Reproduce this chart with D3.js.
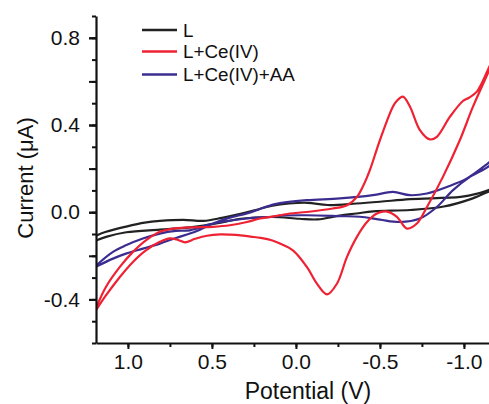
<!DOCTYPE html>
<html>
<head>
<meta charset="utf-8">
<script src="https://cdn.jsdelivr.net/npm/d3@7"></script>
<style>
  html, body { margin: 0; padding: 0; background: #fff; }
  svg { display: block; }
  text { font-family: "Liberation Sans", Arial, sans-serif; fill: #111; }
</style>
</head>
<body>
<svg id="chart" width="489" height="404"></svg>
<script>
// ---- data: [potential (V), current (µA)] tracing each closed CV loop ----
const seriesNames = ["L", "L+Ce(IV)", "L+Ce(IV)+AA"];
const seriesColors = ["#222222", "#ee2233", "#3b2d8f"];

const curveL = [
  [1.19,-0.108],[1.13,-0.090],[1.01,-0.066],[0.90,-0.048],[0.81,-0.040],[0.67,-0.035],
  [0.55,-0.040],[0.44,-0.026],[0.33,-0.008],[0.24,0.010],[0.14,0.030],[0.04,0.040],
  [-0.07,0.043],[-0.19,0.033],[-0.36,0.040],[-0.50,0.048],[-0.68,0.060],[-0.98,0.070],
  [-1.08,0.085],[-1.143,0.101],[-1.20,0.115],
  [-1.20,0.108],[-1.143,0.093],[-1.04,0.060],[-0.88,0.026],[-0.68,0.010],[-0.46,0.004],
  [-0.36,-0.006],[-0.26,-0.016],[-0.13,-0.033],[-0.02,-0.030],[0.14,-0.022],[0.33,-0.030],
  [0.44,-0.047],[0.63,-0.070],[0.81,-0.080],[1.01,-0.092],[1.13,-0.113],[1.19,-0.130]
];

const curveLCe = [
  [1.19,-0.450],[1.131,-0.382],[1.048,-0.297],[0.970,-0.228],[0.893,-0.175],[0.810,-0.136],
  [0.75,-0.120],[0.70,-0.128],[0.66,-0.138],[0.60,-0.122],[0.53,-0.108],[0.45,-0.102],
  [0.39,-0.103],[0.33,-0.106],[0.27,-0.112],[0.21,-0.118],[0.14,-0.130],[0.095,-0.144],
  [0.018,-0.175],[-0.065,-0.251],[-0.125,-0.328],[-0.185,-0.377],[-0.244,-0.328],
  [-0.304,-0.205],[-0.363,-0.113],[-0.423,-0.045],[-0.482,-0.006],[-0.542,0.003],
  [-0.601,-0.021],[-0.661,-0.075],[-0.720,-0.052],[-0.780,0.024],[-0.875,0.162],
  [-0.976,0.331],[-1.054,0.484],[-1.143,0.638],[-1.20,0.740],
  [-1.20,0.750],[-1.143,0.653],[-1.077,0.553],[-1.03,0.525],[-0.994,0.510],[-0.917,0.438],
  [-0.839,0.346],[-0.798,0.334],[-0.738,0.377],[-0.679,0.484],[-0.637,0.530],[-0.600,0.510],
  [-0.577,0.484],[-0.500,0.331],[-0.440,0.193],[-0.400,0.120],[-0.363,0.070],[-0.304,0.032],
  [-0.220,0.017],[-0.065,0.001],[0.036,-0.006],[0.095,-0.014],[0.214,-0.029],[0.292,-0.045],
  [0.393,-0.060],[0.494,-0.067],[0.631,-0.070],[0.732,-0.075],[0.810,-0.090],[0.893,-0.129],
  [0.970,-0.182],[1.048,-0.251],[1.131,-0.343],[1.19,-0.440]
];

const curveLCeAA = [
  [1.19,-0.250],[1.089,-0.213],[1.012,-0.190],[0.911,-0.167],[0.810,-0.144],[0.714,-0.118],
  [0.631,-0.098],[0.571,-0.080],[0.494,-0.052],[0.393,-0.025],[0.292,-0.006],[0.214,0.015],
  [0.137,0.035],[0.095,0.042],[-0.065,0.055],[-0.262,0.063],[-0.458,0.078],[-0.577,0.093],
  [-0.679,0.078],[-0.780,0.086],[-0.899,0.116],[-1.018,0.155],[-1.143,0.224],[-1.20,0.260],
  [-1.20,0.250],[-1.143,0.208],[-1.036,0.162],[-0.935,0.101],[-0.839,0.024],[-0.738,-0.029],
  [-0.619,-0.045],[-0.500,-0.034],[-0.381,-0.021],[-0.262,-0.018],[-0.065,-0.014],
  [0.095,-0.016],[0.137,-0.021],[0.292,-0.029],[0.494,-0.052],[0.631,-0.083],[0.714,-0.086],
  [0.810,-0.098],[0.911,-0.121],[1.012,-0.152],[1.089,-0.182],[1.19,-0.245]
];

const xTickValues = [1.0, 0.5, 0.0, -0.5, -1.0];
const xTickLabels = ["1.0", "0.5", "0.0", "-0.5", "-1.0"];
const yTickValues = [0.8, 0.4, 0.0, -0.4];
const yTickLabels = ["0.8", "0.4", "0.0", "-0.4"];
const xLabel = "Potential (V)";
const yLabel = "Current (μA)";

// ---- layout ----
const svg = d3.select("#chart");
const mLeft = 96, mBottom = 343, mTop = 16;
const x = d3.scaleLinear().domain([1.19, -1.2]).range([mLeft, mLeft + 2.39 * 168]);
const y = d3.scaleLinear().domain([-0.6, 0.9]).range([mBottom, mTop]);

svg.append("defs").append("clipPath").attr("id", "plot")
  .append("rect").attr("x", mLeft).attr("y", 0).attr("width", 489 - mLeft).attr("height", mBottom);

const line = d3.line().x(d => x(d[0])).y(d => y(d[1])).curve(d3.curveCatmullRom.alpha(0.5));
const allCurves = [curveL, curveLCe, curveLCeAA];
const plot = svg.append("g").attr("clip-path", "url(#plot)");
[0, 2, 1].forEach(i => {
  plot.append("path").datum(allCurves[i])
    .attr("d", line).attr("fill", "none")
    .attr("stroke", seriesColors[i]).attr("stroke-width", 2.2)
    .attr("stroke-linejoin", "round");
});

// ---- axes ----
const yMinor = d3.range(-6, 10).map(v => v / 10);
const xMinor = d3.range(-4, 5).map(v => v / 4).filter(v => x(v) <= 489);

svg.append("g").attr("transform", `translate(${mLeft},0)`)
  .call(d3.axisLeft(y).tickValues(yMinor).tickSize(4).tickSizeOuter(0).tickFormat(""));
svg.append("g").attr("transform", `translate(${mLeft},0)`)
  .call(d3.axisLeft(y).tickValues([0.8, 0.6, 0.4, 0.2, 0.0, -0.2, -0.4]).tickSize(7).tickFormat(""))
  .call(g => g.select(".domain").remove());
svg.append("g").attr("transform", `translate(${mLeft},0)`)
  .call(d3.axisLeft(y).tickValues(yTickValues).tickSize(7).tickPadding(9)
    .tickFormat((d, i) => yTickLabels[i]))
  .call(g => g.select(".domain").remove());

svg.append("g").attr("transform", `translate(0,${mBottom})`)
  .call(d3.axisBottom(x).tickValues(xMinor).tickSize(4).tickSizeOuter(0).tickFormat(""));
svg.append("g").attr("transform", `translate(0,${mBottom})`)
  .call(d3.axisBottom(x).tickValues(xTickValues).tickSize(6).tickPadding(5)
    .tickFormat((d, i) => xTickLabels[i]))
  .call(g => g.select(".domain").remove());

svg.selectAll(".domain").attr("stroke", "#111").attr("stroke-width", 2.2);
svg.selectAll(".tick line").attr("stroke", "#111").attr("stroke-width", 2);
svg.selectAll(".tick text").attr("font-size", 21).attr("fill", "#111")
  .attr("font-family", "'Liberation Sans', Arial, sans-serif");

svg.append("text").attr("x", 308).attr("y", 399).attr("text-anchor", "middle")
  .attr("font-size", 23).text(xLabel);
svg.append("text").attr("transform", "translate(33,178) rotate(-90)")
  .attr("text-anchor", "middle").attr("font-size", 22).text(yLabel);

// ---- legend ----
const legendY = [30, 51.5, 74.5];
seriesNames.forEach((name, i) => {
  svg.append("line").attr("x1", 142).attr("x2", 177).attr("y1", legendY[i]).attr("y2", legendY[i])
    .attr("stroke", seriesColors[i]).attr("stroke-width", 2.5);
  svg.append("text").attr("x", 183).attr("y", legendY[i]).attr("dy", "0.36em")
    .attr("font-size", 18.8).text(name);
});
</script>
</body>
</html>
